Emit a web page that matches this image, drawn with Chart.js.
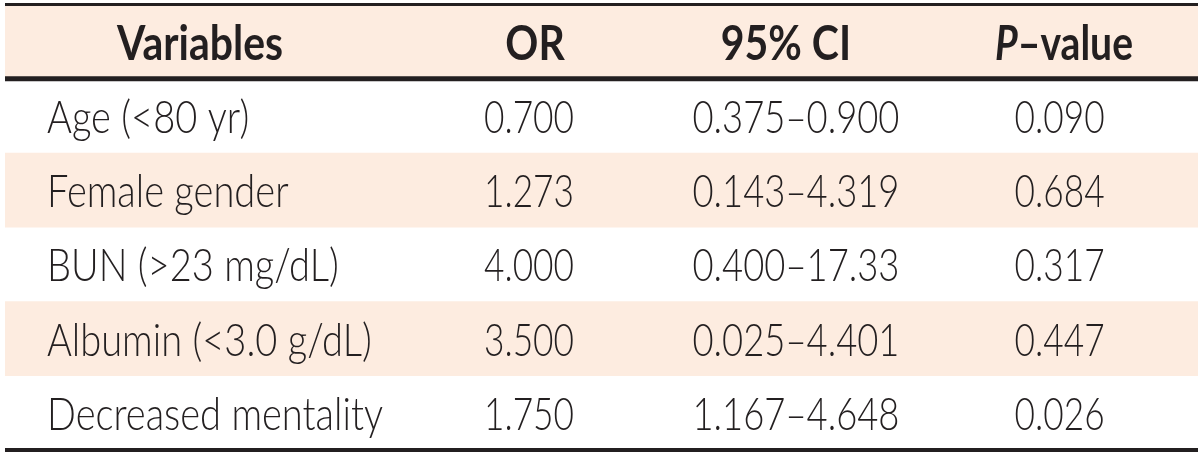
<!DOCTYPE html>
<html>
<head>
<meta charset="utf-8">
<script src="https://cdn.jsdelivr.net/npm/chart.js@4/dist/chart.umd.min.js"></script>
<style>
html,body{margin:0;padding:0;background:#fff;}
canvas{display:block;}
</style>
</head>
<body>
<canvas id="c" width="1200" height="454"></canvas>
<script>
// ---- data ----
const headers = ['Variables', 'OR', '95% CI', 'P-value'];
const variables = ['Age (<80 yr)', 'Female gender', 'BUN (>23 mg/dL)', 'Albumin (<3.0 g/dL)', 'Decreased mentality'];
const orValues = ['0.700', '1.273', '4.000', '3.500', '1.750'];
const ciLower = ['0.375', '0.143', '0.400', '0.025', '1.167'];
const ciUpper = ['0.900', '4.319', '17.33', '4.401', '4.648'];
const pValues = ['0.090', '0.684', '0.317', '0.447', '0.026'];

// ---- styling / layout (not data) ----
const INK = '#231f20';
const PEACH = '#fdece0';
const FAMILY = 'Lato, "Open Sans", sans-serif';
const BODY_FONT = '300 46px ' + FAMILY;
const HEAD_FONT = 'bold 48px ' + FAMILY;
const HEAD_ITAL = 'italic bold 48px ' + FAMILY;
const CAP = 0.72;
const BODY_SIZE = 46, HEAD_SIZE = 48;
// target widths used to condense the font horizontally
const BODY_REF = ['Decreased mentality', 336];
const NUM_REF = ['0.700', 90];
const CI_REF = ['0.375\u20130.900', 207];
const HEAD_REF = ['Variables', 166];
const PHEAD_WIDTH = 138;
// column anchor positions on the hidden 0..1 x scale
const cols = {
  labelLeft: 0.0352,
  varHead: 0.1635,
  orHead: 0.4443, orVal: 0.4392,
  ciHead: 0.6546, ciVal: 0.663,
  pHead: 0.8877, pVal: 0.884
};

const rowLabels = ['header'].concat(variables);
const fills = rowLabels.map((_, i) => (i % 2 === 0 ? PEACH : 'rgba(255,255,255,0)'));

function drawText(ctx, text, font, sx, x, y, align) {
  ctx.font = font;
  const w = ctx.measureText(text).width * sx;
  let left = x;
  if (align === 'center') left = x - w / 2;
  else if (align === 'right') left = x - w;
  ctx.save();
  ctx.translate(left, y);
  ctx.scale(sx, 1);
  ctx.textAlign = 'left';
  ctx.fillText(text, 0, 0);
  ctx.restore();
  return w;
}

const tablePlugin = {
  id: 'tableText',
  afterDatasetsDraw(chart) {
    const ctx = chart.ctx;
    const xs = chart.scales.x, ys = chart.scales.y;
    const X = v => xs.getPixelForValue(v);
    ctx.save();
    ctx.fillStyle = INK;
    ctx.textBaseline = 'alphabetic';
    ctx.font = BODY_FONT;
    const bs = BODY_REF[1] / ctx.measureText(BODY_REF[0]).width;
    const ns = NUM_REF[1] / ctx.measureText(NUM_REF[0]).width;
    const cs = CI_REF[1] / ctx.measureText(CI_REF[0]).width;
    ctx.font = HEAD_FONT;
    const hs = HEAD_REF[1] / ctx.measureText(HEAD_REF[0]).width;

    // rules
    const top = ys.top, bottom = ys.bottom;
    const sep = (ys.getPixelForValue(0) + ys.getPixelForValue(1)) / 2;
    ctx.fillRect(xs.left, top - 1.5, xs.right - xs.left, 3);
    ctx.fillRect(xs.left, sep - 2.5, xs.right - xs.left, 5);
    ctx.fillRect(xs.left, bottom - 2, xs.right - xs.left, 4);

    // header
    const hy = ys.getPixelForValue(0);
    const hb = hy + HEAD_SIZE * CAP / 2 + 1;
    drawText(ctx, headers[0], HEAD_FONT, hs, X(cols.varHead), hb, 'center');
    drawText(ctx, headers[1], HEAD_FONT, hs, X(cols.orHead), hb, 'center');
    drawText(ctx, headers[2], HEAD_FONT, hs, X(cols.ciHead), hb, 'center');
    const parts = headers[3].split('-');
    const rest = '\u2013' + parts[1];
    ctx.font = HEAD_ITAL; const r1 = ctx.measureText(parts[0]).width;
    ctx.font = HEAD_FONT; const r2 = ctx.measureText(rest).width;
    const ps = PHEAD_WIDTH / (r1 + r2);
    const startX = X(cols.pHead) - PHEAD_WIDTH / 2;
    drawText(ctx, parts[0], HEAD_ITAL, ps, startX, hb, 'left');
    drawText(ctx, rest, HEAD_FONT, ps, startX + r1 * ps, hb, 'left');

    // body rows
    variables.forEach((v, i) => {
      const cy = ys.getPixelForValue(i + 1);
      const b = cy + BODY_SIZE * CAP / 2 + 0.5;
      drawText(ctx, v, BODY_FONT, bs, X(cols.labelLeft), b, 'left');
      drawText(ctx, orValues[i], BODY_FONT, ns, X(cols.orVal), b, 'center');
      drawText(ctx, ciLower[i] + '\u2013' + ciUpper[i], BODY_FONT, cs, X(cols.ciVal), b, 'center');
      drawText(ctx, pValues[i], BODY_FONT, ns, X(cols.pVal), b, 'center');
    });
    ctx.restore();
  }
};

new Chart(document.getElementById('c'), {
  type: 'bar',
  data: {
    labels: rowLabels,
    datasets: [{
      data: rowLabels.map(() => 1),
      backgroundColor: fills,
      borderWidth: 0,
      categoryPercentage: 1,
      barPercentage: 1
    }]
  },
  options: {
    indexAxis: 'y',
    responsive: false,
    animation: false,
    events: [],
    layout: { padding: { left: 5, right: 2, top: 4.5, bottom: 4 } },
    plugins: { legend: { display: false }, tooltip: { enabled: false } },
    scales: {
      x: { display: false, min: 0, max: 1 },
      y: { display: false, offset: true }
    }
  },
  plugins: [tablePlugin]
});
</script>
</body>
</html>
